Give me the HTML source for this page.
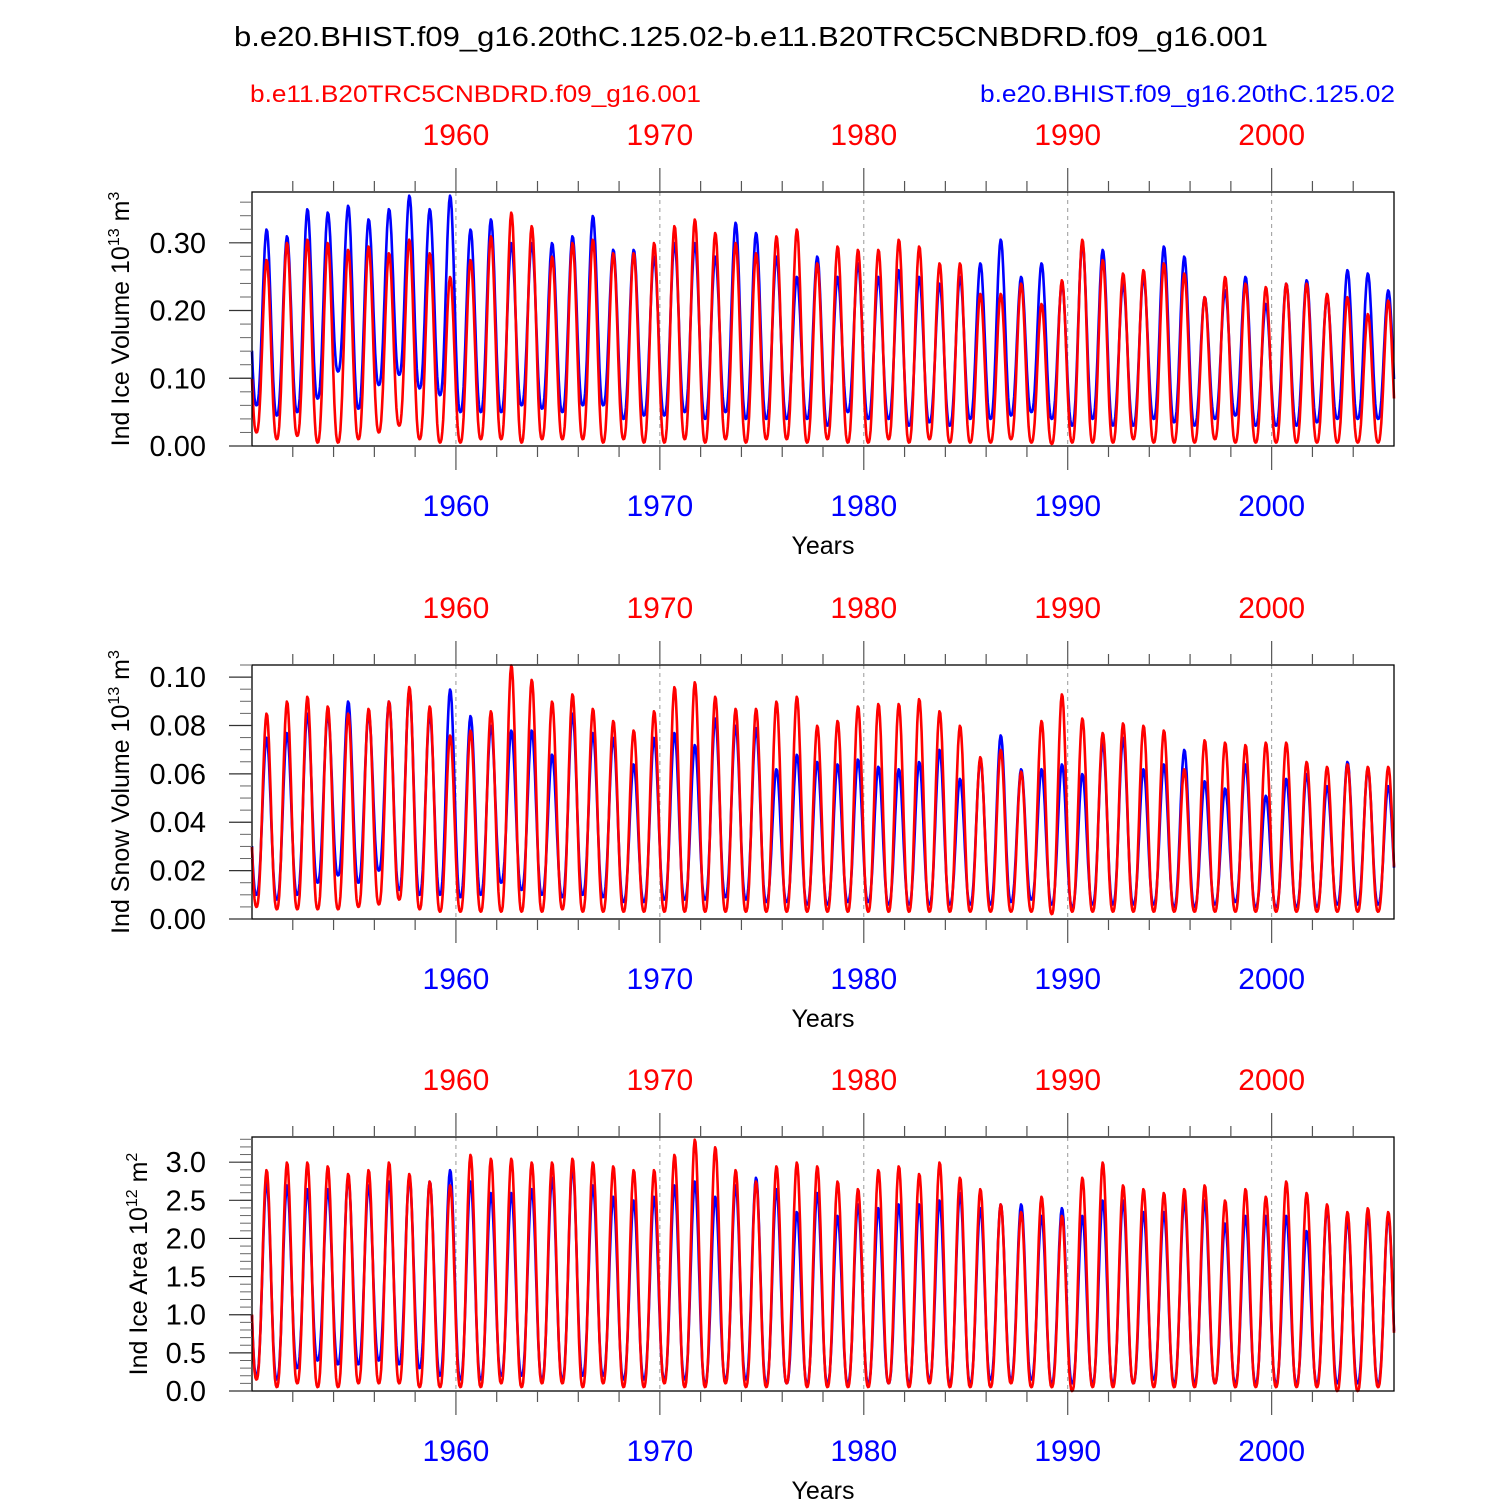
<!DOCTYPE html>
<html><head><meta charset="utf-8"><style>
body{margin:0;background:#fff}
svg{display:block;font-family:"Liberation Sans",sans-serif}
</style></head><body>
<svg id="chart" width="1500" height="1500" viewBox="0 0 1500 1500" xmlns="http://www.w3.org/2000/svg">
<text x="751" y="46" font-size="28" text-anchor="middle" textLength="1034" lengthAdjust="spacingAndGlyphs">b.e20.BHIST.f09_g16.20thC.125.02-b.e11.B20TRC5CNBDRD.f09_g16.001</text>
<text x="250" y="102" font-size="24" fill="#f00" textLength="451" lengthAdjust="spacingAndGlyphs">b.e11.B20TRC5CNBDRD.f09_g16.001</text>
<text x="980" y="102" font-size="24" fill="#00f" textLength="415" lengthAdjust="spacingAndGlyphs">b.e20.BHIST.f09_g16.20thC.125.02</text>
</svg>
<script>
const years=[];for(let y=1950;y<=2005;y++)years.push(y);
const decadeTicks=[1960,1970,1980,1990,2000];
// Panel 1: ice volume
const volBluePeak=[0.32,0.31,0.35,0.345,0.355,0.335,0.35,0.37,0.35,0.37,0.32,0.335,0.30,0.30,0.30,0.31,0.34,0.29,0.29,0.28,0.30,0.30,0.28,0.33,0.315,0.28,0.25,0.28,0.25,0.27,0.25,0.26,0.25,0.24,0.25,0.27,0.305,0.25,0.27,0.24,0.30,0.29,0.24,0.25,0.295,0.28,0.22,0.23,0.25,0.21,0.24,0.245,0.22,0.26,0.255,0.23];
const volBlueMin=[0.06,0.045,0.05,0.07,0.11,0.055,0.09,0.105,0.085,0.075,0.05,0.05,0.05,0.06,0.055,0.05,0.06,0.06,0.04,0.045,0.045,0.05,0.04,0.05,0.04,0.04,0.04,0.04,0.03,0.05,0.04,0.04,0.03,0.035,0.03,0.04,0.04,0.045,0.05,0.04,0.03,0.04,0.03,0.03,0.04,0.035,0.03,0.04,0.045,0.03,0.03,0.03,0.035,0.04,0.04,0.04];
const volRedPeak=[0.275,0.30,0.305,0.30,0.29,0.295,0.285,0.305,0.285,0.25,0.275,0.31,0.345,0.325,0.28,0.30,0.305,0.285,0.285,0.30,0.325,0.335,0.315,0.30,0.285,0.31,0.32,0.27,0.295,0.29,0.29,0.305,0.295,0.27,0.27,0.225,0.225,0.24,0.21,0.245,0.305,0.275,0.255,0.26,0.27,0.255,0.22,0.25,0.24,0.235,0.24,0.24,0.225,0.22,0.195,0.215];
const volRedMin=[0.02,0.01,0.015,0.005,0.005,0.01,0.02,0.03,0.01,0.005,0.005,0.01,0.01,0.005,0.01,0.01,0.01,0.005,0.01,0.005,0.005,0.01,0.005,0.01,0.005,0.01,0.01,0.005,0.01,0.005,0.005,0.01,0.005,0.01,0.005,0.005,0.005,0.01,0.005,0.003,0.005,0.005,0.005,0.01,0.005,0.005,0.005,0.01,0.005,0.005,0.005,0.005,0.005,0.005,0.005,0.005];
// Panel 2: snow volume
const snowBluePeak=[0.075,0.077,0.085,0.085,0.09,0.085,0.09,0.095,0.085,0.095,0.084,0.08,0.078,0.078,0.068,0.085,0.077,0.075,0.064,0.075,0.077,0.072,0.083,0.08,0.079,0.062,0.068,0.065,0.064,0.066,0.063,0.062,0.065,0.07,0.058,0.066,0.076,0.062,0.062,0.064,0.06,0.073,0.075,0.062,0.064,0.07,0.057,0.054,0.064,0.051,0.058,0.06,0.055,0.065,0.062,0.055];
const snowBlueMin=[0.01,0.008,0.01,0.015,0.018,0.015,0.02,0.012,0.01,0.01,0.009,0.01,0.015,0.012,0.01,0.009,0.01,0.009,0.007,0.007,0.008,0.008,0.008,0.009,0.008,0.007,0.007,0.006,0.006,0.007,0.007,0.006,0.006,0.006,0.006,0.006,0.006,0.007,0.008,0.006,0.005,0.006,0.006,0.006,0.006,0.005,0.005,0.006,0.007,0.005,0.005,0.005,0.005,0.006,0.006,0.006];
const snowRedPeak=[0.085,0.09,0.092,0.088,0.085,0.087,0.09,0.096,0.088,0.076,0.078,0.086,0.105,0.099,0.09,0.093,0.087,0.082,0.078,0.086,0.096,0.098,0.092,0.087,0.087,0.09,0.092,0.08,0.082,0.088,0.089,0.089,0.091,0.086,0.08,0.067,0.07,0.061,0.082,0.093,0.083,0.077,0.081,0.08,0.078,0.062,0.074,0.073,0.072,0.073,0.073,0.065,0.063,0.064,0.063,0.063];
const snowRedMin=[0.005,0.004,0.004,0.004,0.004,0.005,0.006,0.008,0.004,0.003,0.003,0.003,0.003,0.003,0.003,0.004,0.003,0.003,0.003,0.003,0.003,0.003,0.003,0.003,0.003,0.003,0.003,0.003,0.003,0.003,0.003,0.003,0.003,0.003,0.003,0.003,0.003,0.003,0.003,0.002,0.003,0.003,0.003,0.003,0.003,0.003,0.003,0.003,0.003,0.003,0.003,0.003,0.003,0.003,0.003,0.003];
// Panel 3: ice area
const areaBluePeak=[2.75,2.7,2.65,2.65,2.8,2.7,2.75,2.8,2.75,2.9,2.75,2.6,2.6,2.65,2.8,2.95,2.7,2.55,2.5,2.55,2.7,2.75,2.55,2.7,2.8,2.65,2.35,2.6,2.3,2.45,2.4,2.45,2.45,2.5,2.6,2.4,2.45,2.45,2.3,2.4,2.3,2.5,2.5,2.35,2.35,2.5,2.5,2.2,2.3,2.3,2.3,2.1,2.4,2.25,2.3,2.3];
const areaBlueMin=[0.2,0.15,0.3,0.4,0.35,0.35,0.4,0.35,0.3,0.2,0.15,0.15,0.2,0.2,0.15,0.15,0.2,0.2,0.15,0.15,0.15,0.15,0.1,0.15,0.15,0.1,0.1,0.1,0.1,0.1,0.1,0.1,0.1,0.15,0.1,0.1,0.15,0.15,0.15,0.1,0.1,0.1,0.1,0.1,0.15,0.1,0.1,0.1,0.1,0.1,0.1,0.1,0.1,0.1,0.1,0.1];
const areaRedPeak=[2.9,3.0,3.0,2.95,2.85,2.9,3.0,2.85,2.75,2.7,3.1,3.05,3.05,3.0,3.0,3.05,3.0,2.95,2.9,2.9,3.1,3.3,3.2,2.9,2.75,2.95,3.0,2.95,2.75,2.65,2.9,2.95,2.85,3.0,2.8,2.65,2.45,2.35,2.55,2.3,2.8,3.0,2.7,2.65,2.6,2.65,2.7,2.5,2.65,2.55,2.75,2.6,2.45,2.35,2.4,2.35];
const areaRedMin=[0.15,0.05,0.1,0.05,0.05,0.1,0.1,0.1,0.05,0.05,0.05,0.05,0.1,0.05,0.1,0.1,0.05,0.1,0.05,0.05,0.1,0.05,0.05,0.1,0.05,0.05,0.1,0.05,0.05,0.05,0.05,0.1,0.05,0.1,0.05,0.05,0.05,0.1,0.05,0.05,0.0,0.05,0.05,0.1,0.05,0.05,0.05,0.1,0.05,0.05,0.05,0.05,0.05,0.0,0.0,0.05];

const NS="http://www.w3.org/2000/svg";
const svg=document.getElementById('chart');
function mk(tag,attrs,parent){const e=document.createElementNS(NS,tag);for(const k in attrs)e.setAttribute(k,attrs[k]);(parent||svg).appendChild(e);return e;}
const X0=252,X1=1394,T0=1950,T1=2006;
const xs=t=>X0+(t-T0)/(T1-T0)*(X1-X0);

function series(peaks,mins){
  const n=years.length;
  const knots=[[years[0]-0.28,peaks[0]]];
  for(let i=0;i<n;i++){
    knots.push([years[i]+0.22,mins[i]]);
    knots.push([years[i]+0.72,peaks[i]]);
  }
  knots.push([years[n-1]+1.22,mins[n-1]]);
  const pts=[];
  for(let m=0;m<=(T1-T0)*24;m++){
    const t=T0+m/24;
    let a=knots[0],b=knots[1];
    for(let k=0;k<knots.length-1;k++){if(t>=knots[k][0]&&t<=knots[k+1][0]){a=knots[k];b=knots[k+1];break;}}
    let f=(t-a[0])/(b[0]-a[0]);f=Math.max(0,Math.min(1,f));
    let s=(1-Math.cos(Math.PI*f))/2;
    if(a[1]<b[1])s=Math.pow(s,1.3);else s=1-Math.pow(1-s,1.3);
    pts.push([t,a[1]+(b[1]-a[1])*s]);
  }
  return pts;
}

function panel(o){
  const {top,bot,ymax,majors,minor,fmt,title,sup,unit,tx,id}=o;
  const ys=v=>bot-(v/ymax)*(bot-top);
  const g=mk('g',{});
  
  
  decadeTicks.forEach(d=>{const l=mk('line',{x1:xs(d),x2:xs(d),y1:top,y2:bot,stroke:'#999','stroke-dasharray':'4,4','stroke-width':1},g);
    });
  [[o.bp,o.bm,'#00f','blue'],[o.rp,o.rm,'#f00','red']].forEach(([p,m,c,n])=>{
    const pts=series(p,m).map(q=>[xs(q[0]),ys(q[1])]);
    const path=mk('path',{d:'M'+pts.map(q=>q[0].toFixed(1)+','+q[1].toFixed(1)).join('L'),fill:'none',stroke:c,'stroke-width':2.6,'stroke-linejoin':'round'},g);
    
  });
  const f=mk('rect',{x:X0,y:top,width:X1-X0,height:bot-top,fill:'none',stroke:'#000','stroke-width':1.3},g);
  
  for(let y=1952;y<=2004;y+=2){const big=y%10==0;const L=big?24:11;
    mk('line',{x1:xs(y),x2:xs(y),y1:top,y2:top-L,stroke:'#555','stroke-width':1.2},g);
    mk('line',{x1:xs(y),x2:xs(y),y1:bot,y2:bot+L,stroke:'#555','stroke-width':1.2},g);}
  for(let v=minor;v<=ymax+1e-9;v+=minor){mk('line',{x1:X0,x2:X0-12,y1:ys(v),y2:ys(v),stroke:'#666','stroke-width':1},g);}
  majors.forEach(v=>{mk('line',{x1:X0,x2:X0-23,y1:ys(v),y2:ys(v),stroke:'#333','stroke-width':1.2},g);
    const t=mk('text',{x:X0-46,y:ys(v)+10,'font-size':29,'text-anchor':'end'},g);t.textContent=fmt(v);
    });
  decadeTicks.forEach(d=>{
    const a=mk('text',{x:xs(d),y:top-47,'font-size':30,fill:'#f00','text-anchor':'middle'},g);a.textContent=d;
    
    const b=mk('text',{x:xs(d),y:bot+70,'font-size':30,fill:'#00f','text-anchor':'middle'},g);b.textContent=d;
    
  });
  const xt=mk('text',{x:823,y:bot+108,'font-size':25,'text-anchor':'middle'},g);xt.textContent='Years';
  
  const yt=mk('text',{transform:`translate(${tx},${(top+bot)/2}) rotate(-90)`,'font-size':25,'text-anchor':'middle'},g);
  
  yt.innerHTML=`${title} 10<tspan dy="-10" font-size="16">${sup}</tspan><tspan dy="10"> m</tspan><tspan dy="-10" font-size="16">${unit}</tspan>`;
}
panel({id:'ice-volume',top:192,bot:446,ymax:0.375,majors:[0,0.1,0.2,0.3],minor:0.02,fmt:v=>v.toFixed(2),title:'Ind Ice Volume',sup:'13',unit:'3',tx:129,bp:volBluePeak,bm:volBlueMin,rp:volRedPeak,rm:volRedMin});
panel({id:'snow-volume',top:665,bot:919,ymax:0.105,majors:[0,0.02,0.04,0.06,0.08,0.1],minor:0.005,fmt:v=>v.toFixed(2),title:'Ind Snow Volume',sup:'13',unit:'3',tx:129,bp:snowBluePeak,bm:snowBlueMin,rp:snowRedPeak,rm:snowRedMin});
panel({id:'ice-area',top:1137,bot:1391,ymax:3.33,majors:[0,0.5,1,1.5,2,2.5,3],minor:0.1,fmt:v=>v.toFixed(1),title:'Ind Ice Area',sup:'12',unit:'2',tx:147,bp:areaBluePeak,bm:areaBlueMin,rp:areaRedPeak,rm:areaRedMin});
</script>
</body></html>
